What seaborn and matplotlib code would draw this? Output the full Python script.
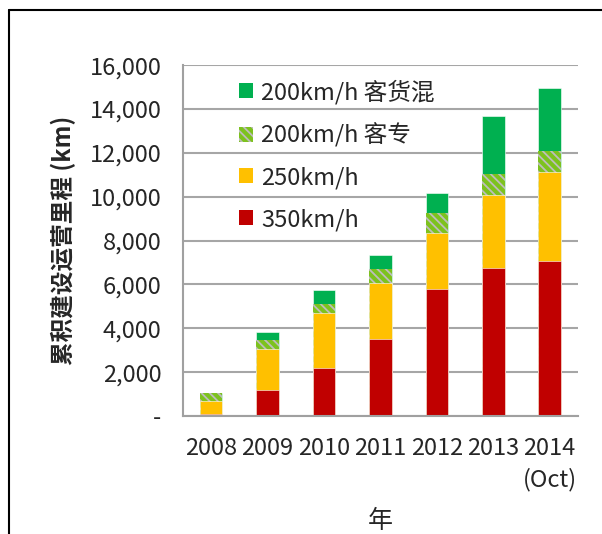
import numpy as np
import pandas as pd
import matplotlib
matplotlib.use("Agg")
import matplotlib.pyplot as plt
import seaborn as sns
from matplotlib.patches import Patch
from matplotlib.lines import Line2D

# -------- données --------
years = ["2008", "2009", "2010", "2011", "2012", "2013", "2014\n(Oct)"]
v350 = [100, 1170, 2190, 3520, 5780, 6740, 7090]
v250 = [590, 1890, 2490, 2560, 2570, 3360, 4030]
v200_pax = [350, 410, 440, 630, 900, 920, 980]
v200_mix = [0, 360, 640, 620, 910, 2660, 2860]

series = ["350km/h", "250km/h", "200km/h 客专", "200km/h 客货混"]
colors = ["#C00000", "#FFC000", "#7DC21E", "#00B050"]

df = pd.DataFrame({"year": years, "350km/h": v350, "250km/h": v250,
                   "200km/h 客专": v200_pax, "200km/h 客货混": v200_mix})
cum = df[series].cumsum(axis=1)
cum["year"] = df["year"]

sns.set_style("white")
plt.rcParams["font.family"] = ["Noto Sans CJK SC", "DejaVu Sans"]
plt.rcParams["hatch.linewidth"] = 1.3

HATCH = "\\\\\\\\"
HATCH_EDGE = "#BDBDBD"

fig = plt.figure(figsize=(6.02, 5.34), dpi=100)
ax = fig.add_axes([0.304, 0.221, 0.656, 0.657])

# barres empilées : on dessine du plus haut au plus bas
for s, c in reversed(list(zip(series, colors))):
    if s == "200km/h 客专":
        sns.barplot(data=cum, x="year", y=s, color=c, ax=ax, width=0.4,
                    saturation=1, hatch=HATCH, edgecolor=HATCH_EDGE, linewidth=0)
    else:
        sns.barplot(data=cum, x="year", y=s, color=c, ax=ax, width=0.4,
                    saturation=1, edgecolor="white", linewidth=0.4)

ax.set_ylim(0, 16000)
ax.set_xlim(-0.5, len(years) - 0.5)
yt = np.arange(0, 16001, 2000)
ax.set_yticks(yt)
ax.set_yticklabels(["-"] + [f"{v:,}" for v in yt[1:]], fontsize=17)
ax.set_xticks(range(len(years)))
ax.set_xticklabels(years, fontsize=17, linespacing=1.4)
ax.set_xticks(np.arange(-0.5, len(years)), minor=True)
ax.tick_params(axis="x", which="major", length=0, pad=15)
ax.tick_params(axis="x", which="minor", length=6, width=1.5, color="#A0A0A0", direction="out")
ax.tick_params(axis="y", length=7, width=1.5, color="#A0A0A0", direction="inout", pad=12)

ax.grid(axis="y", color="#A6A6A6", linewidth=1.5)
ax.set_axisbelow(True)
for side in ["top", "right"]:
    ax.spines[side].set_visible(False)
for side in ["left", "bottom"]:
    ax.spines[side].set_color("#A0A0A0")
    ax.spines[side].set_linewidth(1.5)

ax.set_ylabel("累积建设运营里程 (km)", fontsize=17, fontweight="bold", labelpad=10)
ax.set_xlabel("年", fontsize=18, labelpad=12)

handles = []
for s, c in reversed(list(zip(series, colors))):
    if s == "200km/h 客专":
        handles.append(Patch(facecolor=c, hatch=HATCH, edgecolor=HATCH_EDGE, linewidth=0))
    else:
        handles.append(Patch(facecolor=c, edgecolor="none"))
ax.legend(handles, list(reversed(series)), loc="upper left", bbox_to_anchor=(0.087, 1.02),
          frameon=False, fontsize=17, labelspacing=0.8, handlelength=0.6,
          handleheight=0.6, handletextpad=0.35)

# cadre de la figure (gauche et haut)
fig.add_artist(Line2D([9 / 602, 9 / 602], [0, 1 - 10 / 534], color="black", linewidth=1.5))
fig.add_artist(Line2D([9 / 602, 1], [1 - 10 / 534, 1 - 10 / 534], color="black", linewidth=1.5))

fig.savefig("out.png", dpi=100)
